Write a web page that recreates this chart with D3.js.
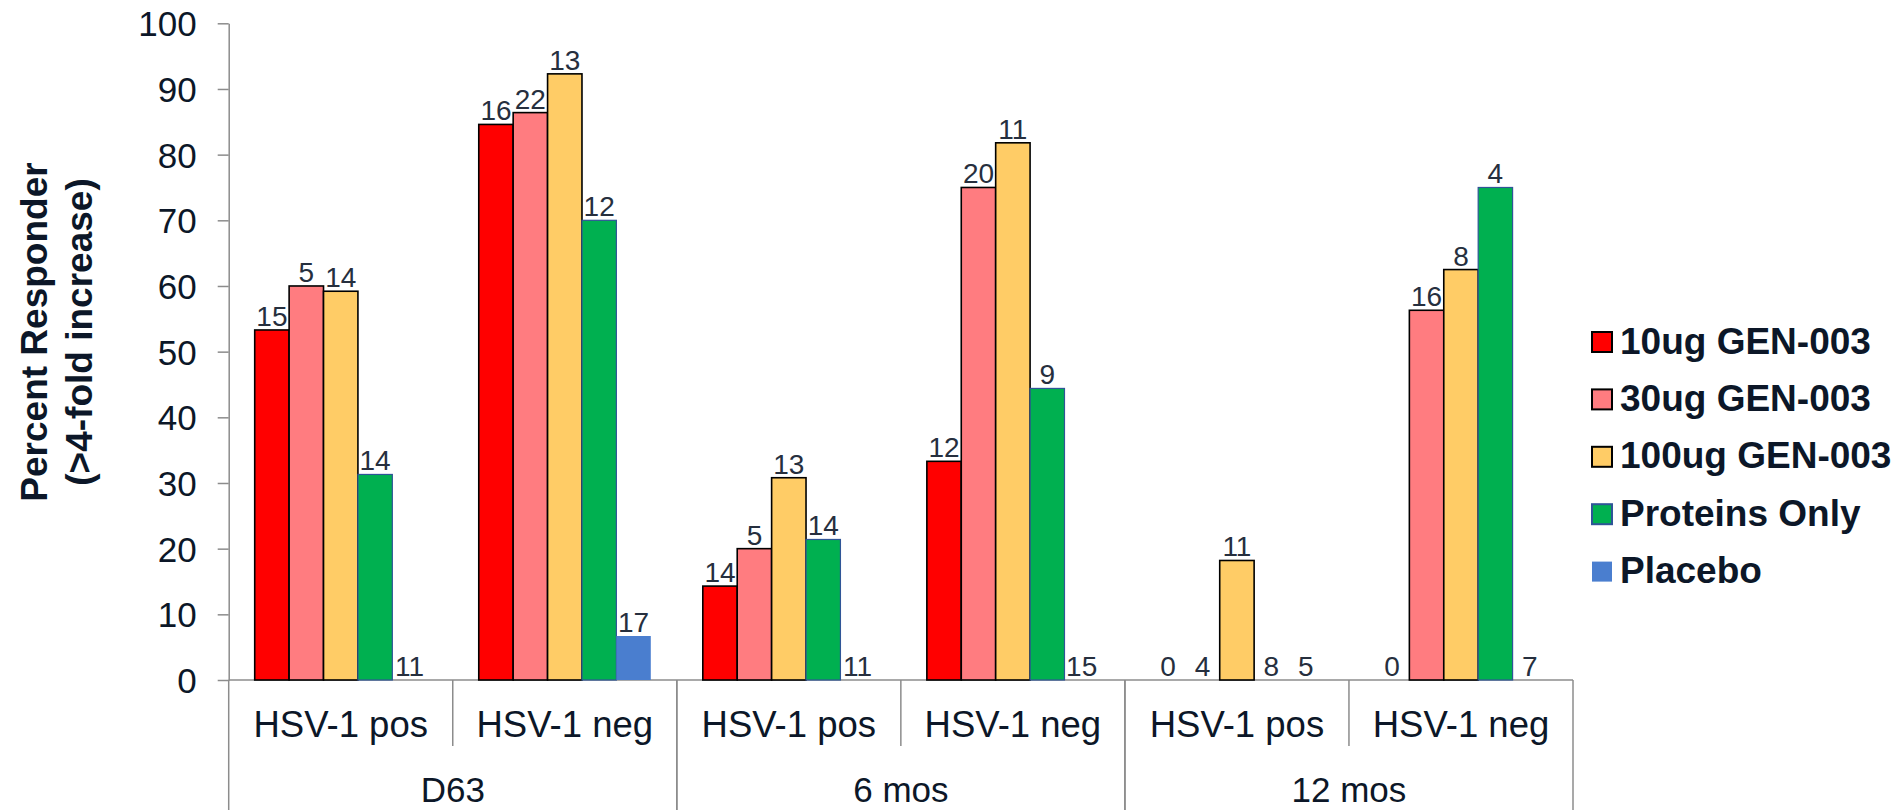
<!DOCTYPE html>
<html>
<head>
<meta charset="utf-8">
<script src="https://cdn.jsdelivr.net/npm/d3@7"></script>
<style>
  body { margin: 0; background: #fff; }
  svg text { font-family: "Liberation Sans", Arial, sans-serif; }
</style>
</head>
<body>
<div id="chart"></div>
<script>
// chart data
var groups = ["D63", "6 mos", "12 mos"];
var subgroups = ["HSV-1 pos", "HSV-1 neg"];
var series = ["10ug GEN-003", "30ug GEN-003", "100ug GEN-003", "Proteins Only", "Placebo"];
var colors = ["#ff0000", "#ff7c80", "#ffcc66", "#00b050", "#4a7ecf"];
var strokes = ["#000", "#000", "#000", "#2f5597", "none"];
var yTicks = [0, 10, 20, 30, 40, 50, 60, 70, 80, 90, 100];

// percent responders, one value per group/subgroup (D63 pos, D63 neg, 6m pos, 6m neg, 12m pos, 12m neg)
var v10ug = [53.3, 84.6, 14.3, 33.3, 0, 0];
var v30ug = [60.0, 86.4, 20.0, 75.0, 0, 56.3];
var v100ug = [59.2, 92.3, 30.8, 81.8, 18.2, 62.5];
var vProteins = [31.3, 70.0, 21.4, 44.4, 0, 75.0];
var vPlacebo = [0, 6.7, 0, 0, 0, 0];

// n shown above each bar
var n10ug = [15, 16, 14, 12, 0, 0];
var n30ug = [5, 22, 5, 20, 4, 16];
var n100ug = [14, 13, 13, 11, 11, 8];
var nProteins = [14, 12, 14, 9, 8, 4];
var nPlacebo = [11, 17, 11, 15, 5, 7];

var values = [v10ug, v30ug, v100ug, vProteins, vPlacebo];
var counts = [n10ug, n30ug, n100ug, nProteins, nPlacebo];

var categories = [];
groups.forEach(function (g) {
  subgroups.forEach(function (s) { categories.push(g + "|" + s); });
});

var data = [];
categories.forEach(function (c, i) {
  series.forEach(function (s, j) {
    data.push({ cat: c, series: s, idx: j, value: values[j][i], n: counts[j][i] });
  });
});

var width = 1901, height = 810;
var plotLeft = 228.7, plotRight = 1573, plotTop = 23.3, plotBottom = 680;
var textColor = "#0c1728";
var axisColor = "#8c8c8c";

var svg = d3.select("#chart").append("svg")
  .attr("width", width)
  .attr("height", height);

var y = d3.scaleLinear().domain([0, 100]).range([plotBottom, plotTop]);
var xg = d3.scaleBand().domain(groups).range([plotLeft, plotRight]);
var x0 = d3.scaleBand().domain(categories).range([plotLeft, plotRight]);
var x1 = d3.scaleBand().domain(series).range([0, x0.bandwidth()])
  .paddingInner(0).paddingOuter(0.756);

// y axis
var yAxis = d3.axisLeft(y).tickValues(yTicks).tickSize(11).tickSizeOuter(0).tickPadding(21);
var gy = svg.append("g")
  .attr("transform", "translate(" + plotLeft + ",0)")
  .call(yAxis);
gy.selectAll("path, line").attr("stroke", axisColor).attr("stroke-width", 1.5);
gy.selectAll("text")
  .attr("fill", textColor)
  .style("font-size", "35px")
  .attr("dy", "0.36em");

// x baseline
svg.append("line")
  .attr("x1", plotLeft).attr("x2", plotRight)
  .attr("y1", plotBottom).attr("y2", plotBottom)
  .attr("stroke", axisColor).attr("stroke-width", 1.5);

// separators under the axis
groups.forEach(function (g) {
  [xg(g), xg(g) + xg.bandwidth()].forEach(function (xx) {
    svg.append("line")
      .attr("x1", xx).attr("x2", xx)
      .attr("y1", plotBottom).attr("y2", height)
      .attr("stroke", axisColor).attr("stroke-width", 1.5);
  });
  var xm = x0(g + "|" + subgroups[1]);
  svg.append("line")
    .attr("x1", xm).attr("x2", xm)
    .attr("y1", plotBottom).attr("y2", 746)
    .attr("stroke", axisColor).attr("stroke-width", 1.5);
});

// subgroup labels
svg.selectAll(".sub-label")
  .data(categories)
  .enter()
  .append("text")
  .attr("class", "sub-label")
  .attr("x", function (c) { return x0(c) + x0.bandwidth() / 2; })
  .attr("y", 737)
  .attr("text-anchor", "middle")
  .attr("fill", textColor)
  .style("font-size", "36.5px")
  .text(function (c) { return c.split("|")[1]; });

// group labels
svg.selectAll(".group-label")
  .data(groups)
  .enter()
  .append("text")
  .attr("class", "group-label")
  .attr("x", function (g) { return xg(g) + xg.bandwidth() / 2; })
  .attr("y", 802)
  .attr("text-anchor", "middle")
  .attr("fill", textColor)
  .style("font-size", "35px")
  .text(function (g) { return g; });

// bars
svg.selectAll(".bar")
  .data(data.filter(function (d) { return d.value > 0; }))
  .enter()
  .append("rect")
  .attr("class", "bar")
  .attr("x", function (d) { return x0(d.cat) + x1(d.series); })
  .attr("y", function (d) { return y(d.value); })
  .attr("width", x1.bandwidth())
  .attr("height", function (d) { return plotBottom - y(d.value); })
  .attr("fill", function (d) { return colors[d.idx]; })
  .attr("stroke", function (d) { return strokes[d.idx]; })
  .attr("stroke-width", function (d) { return d.idx < 3 ? 1.6 : 1.2; });

// n labels
svg.selectAll(".n-label")
  .data(data)
  .enter()
  .append("text")
  .attr("class", "n-label")
  .attr("x", function (d) { return x0(d.cat) + x1(d.series) + x1.bandwidth() / 2; })
  .attr("y", function (d) { return y(d.value) - 4; })
  .attr("text-anchor", "middle")
  .attr("fill", "#262f3e")
  .style("font-size", "28px")
  .text(function (d) { return d.n; });

// y axis title
var title = svg.append("text")
  .attr("transform", "translate(47,332) rotate(-90)")
  .attr("text-anchor", "middle")
  .attr("fill", textColor)
  .style("font-size", "37px")
  .style("font-weight", "bold");
title.append("tspan").attr("x", 0).attr("y", 0).text("Percent Responder");
title.append("tspan").attr("x", 0).attr("y", 44.5).text("(>4-fold increase)");

// legend
var legend = svg.selectAll(".legend")
  .data(series)
  .enter()
  .append("g")
  .attr("class", "legend")
  .attr("transform", function (d, i) { return "translate(1592," + (332 + i * 57.4) + ")"; });

legend.append("rect")
  .attr("width", 20)
  .attr("height", 20)
  .attr("fill", function (d, i) { return colors[i]; })
  .attr("stroke", function (d, i) { return strokes[i]; })
  .attr("stroke-width", 2);

legend.append("text")
  .attr("x", 28)
  .attr("y", 21.5)
  .attr("fill", textColor)
  .style("font-size", "37px")
  .style("font-weight", "bold")
  .text(function (d) { return d; });
</script>
</body>
</html>
